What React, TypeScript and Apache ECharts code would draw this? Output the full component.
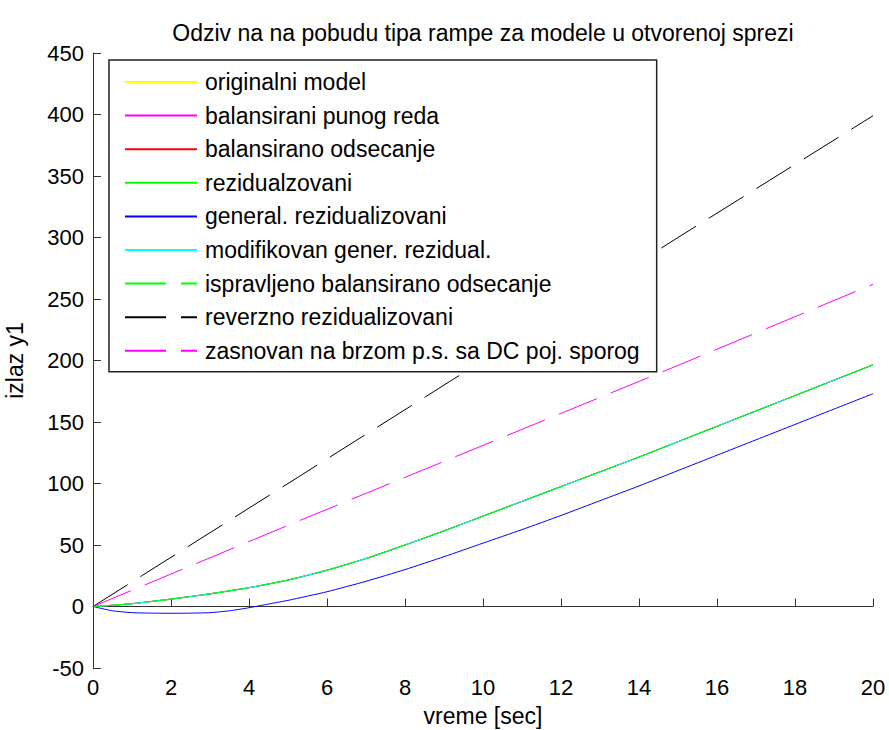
import React, { useEffect, useRef } from "react";
import * as echarts from "echarts";

const time = [0, 0.5, 1, 2, 3, 4, 5, 6, 7, 8, 9, 10, 11, 12, 13, 14, 15, 16, 17, 18, 19, 20];
const originalni = [0, 1, 2.3, 6, 10.3, 15.3, 21.5, 29.5, 39, 50, 61.5, 73.5, 85.5, 97.5, 109.5, 121.5, 134, 146.5, 159, 171.5, 184, 196.5];
const balansiraniPuni = [0, 1, 2.3, 6, 10.3, 15.3, 21.5, 29.5, 39, 50, 61.5, 73.5, 85.5, 97.5, 109.5, 121.5, 134, 146.5, 159, 171.5, 184, 196.5];
const balansiranoOds = [0, 1, 2.3, 6, 10.3, 15.3, 21.5, 29.5, 39, 50, 61.5, 73.5, 85.5, 97.5, 109.5, 121.5, 134, 146.5, 159, 171.5, 184, 196.5];
const rezidualzovani = [0, 1, 2.3, 6, 10.3, 15.3, 21.5, 29.5, 39, 50, 61.5, 73.5, 85.5, 97.5, 109.5, 121.5, 134, 146.5, 159, 171.5, 184, 196.5];
const modifikovan = [0, 1, 2.3, 6, 10.3, 15.3, 21.5, 29.5, 39, 50, 61.5, 73.5, 85.5, 97.5, 109.5, 121.5, 134, 146.5, 159, 171.5, 184, 196.5];
const ispravljeno = [0, 1, 2.3, 6, 10.3, 15.3, 21.5, 29.5, 39, 50, 61.5, 73.5, 85.5, 97.5, 109.5, 121.5, 134, 146.5, 159, 171.5, 184, 196.5];
const generalTime = [0, 0.5, 1, 1.5, 2, 2.5, 3, 3.5, 4, 4.5, 5, 6, 7, 8, 9, 10, 11, 12, 13, 14, 15, 16, 17, 18, 19, 20];
const generalRez = [0, -3.5, -5, -5.4, -5.5, -5.4, -5, -3.5, -1, 2, 5, 12, 20.5, 30, 40.5, 51.5, 62.5, 74, 86, 98, 110.5, 123, 135.5, 148, 160.5, 173];
const reverznoTime = [0, 5, 10, 15, 20];
const reverzno = [0, 100, 200, 300, 399];
const zasnovanTime = [0, 5, 10, 15, 20];
const zasnovan = [0, 66, 131, 196, 262];

const names = [
  "originalni model",
  "balansirani punog reda",
  "balansirano odsecanje",
  "rezidualzovani",
  "general. rezidualizovani",
  "modifikovan gener. rezidual.",
  "ispravljeno balansirano odsecanje",
  "reverzno rezidualizovani",
  "zasnovan na brzom p.s. sa DC poj. sporog",
];

const FONT = "Liberation Sans, Arial, sans-serif";

function pairs(xs: number[], ys: number[]) {
  return xs.map((x, i) => [x, ys[i]]);
}

export default function App() {
  const ref = useRef<HTMLDivElement>(null);
  useEffect(() => {
    document.body.style.margin = "0";
    const chart = echarts.init(ref.current!, undefined, { renderer: "svg" });
    const dash = [41, 15];
    const mk = (name: string, data: number[][], color: string, dashed: boolean, smooth: number) => ({
      name,
      type: "line",
      data,
      symbol: "none",
      showSymbol: false,
      smooth,
      lineStyle: { color, width: 1, type: dashed ? dash : "solid" },
      itemStyle: { color },
    });
    chart.setOption({
      animation: false,
      backgroundColor: "#fff",
      title: {
        text: "Odziv na na pobudu tipa rampe za modele u otvorenoj sprezi",
        left: 478,
        textAlign: "center",
        top: 16,
        textStyle: { fontFamily: FONT, fontSize: 23, fontWeight: "normal", color: "#000" },
      },
      grid: { left: 93, right: 16, top: 53, bottom: 62, containLabel: false, outerBoundsMode: "none" },
      legend: {
        orient: "vertical",
        left: 109,
        top: 60,
        itemWidth: 72,
        itemHeight: 14,
        itemGap: 9.6,
        padding: [10, 17, 9, 15],
        borderColor: "#222",
        borderWidth: 1.5,
        backgroundColor: "#fff",
        itemStyle: { opacity: 0 },
        textStyle: { fontFamily: FONT, fontSize: 23, color: "#000", lineHeight: 24, padding: [0, 0, 0, 3] },
        data: names,
      },
      xAxis: {
        type: "value",
        min: 0,
        max: 20,
        interval: 2,
        name: "vreme [sec]",
        nameLocation: "middle",
        nameGap: 36,
        nameTextStyle: { fontFamily: FONT, fontSize: 23, color: "#000" },
        axisLine: { lineStyle: { color: "#333", width: 1 } },
        axisTick: { inside: true, length: 8, lineStyle: { color: "#333" } },
        axisLabel: { fontFamily: FONT, fontSize: 22, color: "#000", margin: 8 },
        splitLine: { show: false },
      },
      yAxis: {
        type: "value",
        min: -50,
        max: 450,
        interval: 50,
        name: "izlaz y1",
        nameLocation: "middle",
        nameGap: 67,
        nameTextStyle: { fontFamily: FONT, fontSize: 23, color: "#000" },
        axisLine: { show: true, lineStyle: { color: "#333", width: 1 } },
        axisTick: { show: true, inside: true, length: 8, lineStyle: { color: "#333" } },
        axisLabel: { fontFamily: FONT, fontSize: 22, color: "#000", margin: 9 },
        splitLine: { show: false },
      },
      series: [
        mk(names[0], pairs(time, originalni), "#ffff00", false, 0.2),
        mk(names[1], pairs(time, balansiraniPuni), "#ff00ff", false, 0.2),
        mk(names[2], pairs(time, balansiranoOds), "#ff0000", false, 0.2),
        mk(names[3], pairs(time, rezidualzovani), "#00ff00", false, 0.2),
        mk(names[4], pairs(generalTime, generalRez), "#0000ff", false, 0.2),
        mk(names[5], pairs(time, modifikovan), "#00ffff", false, 0.2),
        mk(names[6], pairs(time, ispravljeno), "#00ff00", true, 0.2),
        mk(names[7], pairs(reverznoTime, reverzno), "#000000", true, 0),
        mk(names[8], pairs(zasnovanTime, zasnovan), "#ff00ff", true, 0),
      ],
    });
    return () => chart.dispose();
  }, []);
  return <div ref={ref} style={{ width: 889, height: 730 }} />;
}
